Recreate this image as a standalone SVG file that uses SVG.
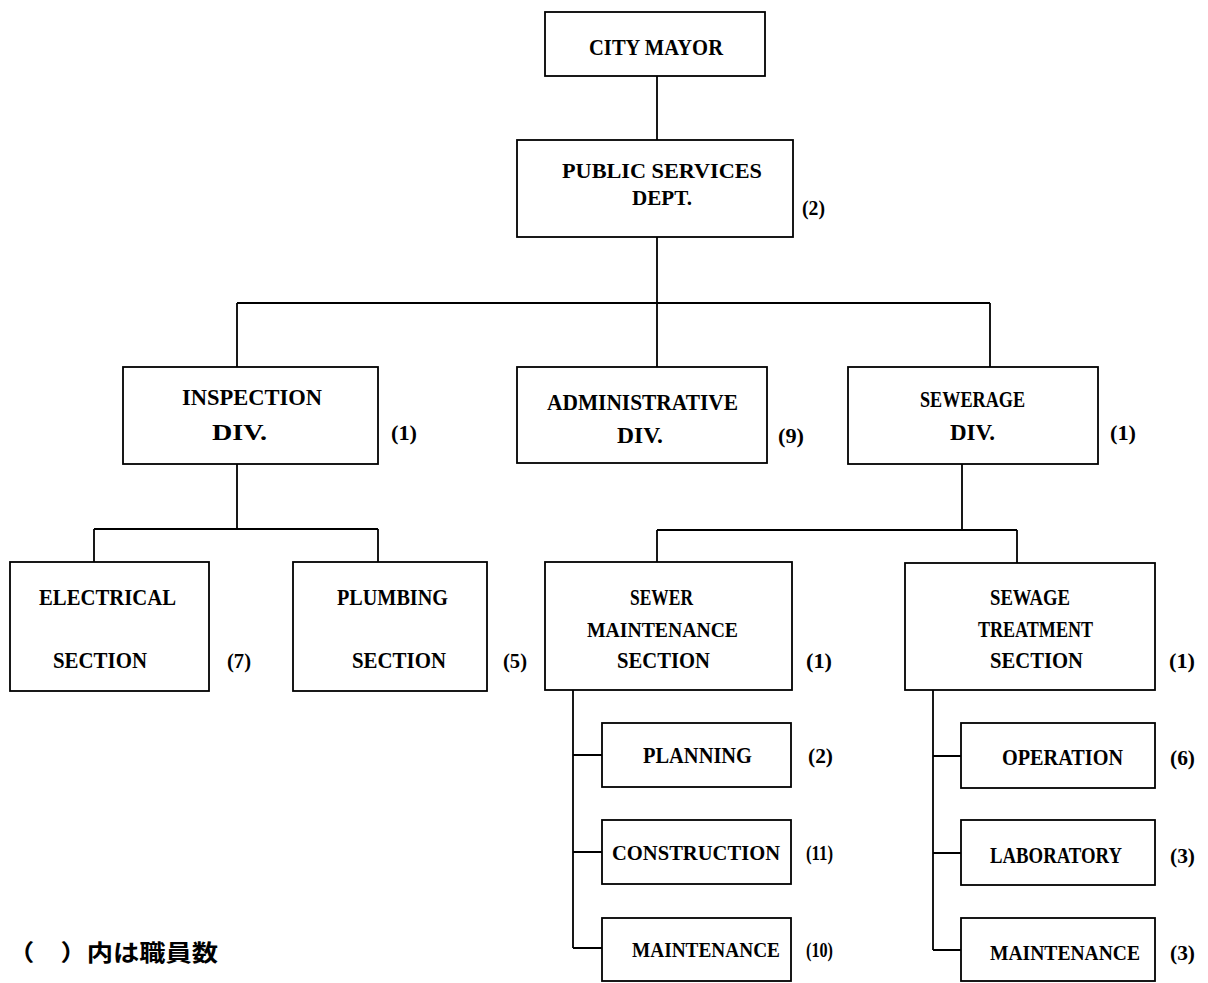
<svg xmlns="http://www.w3.org/2000/svg" width="1208" height="983" viewBox="0 0 1208 983">
<style>
.box{fill:#fff;stroke:#000;stroke-width:1.8}
.ln{fill:none;stroke:#000;stroke-width:1.8}
text{font-family:"Liberation Serif","DejaVu Serif",serif;font-weight:bold;font-size:24px;fill:#000}
.s{font-size:22px}
.n{font-size:22px}
.jp{font-family:"Noto Sans CJK JP","Noto Sans CJK SC",sans-serif;font-size:23px;font-weight:bold}
</style>
<rect width="1208" height="983" fill="#fff"/>
<g id="connectors">
<path class="ln" d="M657,76V140 M657,237V367 M237,303H990 M237,303V367 M990,303V367"/>
<path class="ln" d="M237,464V529 M94,529H378 M94,529V562 M378,529V562"/>
<path class="ln" d="M962,464V530 M657,530H1017 M657,530V562 M1017,530V563"/>
<path class="ln" d="M573,690V948 M573,755H602 M573,852H602 M573,948H602"/>
<path class="ln" d="M933,690V950 M933,756H961 M933,853H961 M933,950H961"/>
</g>
<g id="mayor"><rect class="box" x="545" y="12" width="220" height="64"/><text x="589" y="55" textLength="134" lengthAdjust="spacingAndGlyphs">CITY MAYOR</text></g>
<g id="public"><rect class="box" x="517" y="140" width="276" height="97"/><text class="s" x="562" y="178" textLength="200" lengthAdjust="spacingAndGlyphs">PUBLIC SERVICES</text><text class="s" x="632" y="205" textLength="60" lengthAdjust="spacingAndGlyphs">DEPT.</text><text class="n" x="802" y="215" textLength="23" lengthAdjust="spacingAndGlyphs">(2)</text></g>
<g id="inspection"><rect class="box" x="123" y="367" width="255" height="97"/><text x="182" y="405" textLength="140" lengthAdjust="spacingAndGlyphs">INSPECTION</text><text x="212" y="440" textLength="55" lengthAdjust="spacingAndGlyphs">DIV.</text><text class="n" x="391" y="440" textLength="26" lengthAdjust="spacingAndGlyphs">(1)</text></g>
<g id="administrative"><rect class="box" x="517" y="367" width="250" height="96"/><text x="547" y="410" textLength="191" lengthAdjust="spacingAndGlyphs">ADMINISTRATIVE</text><text x="617" y="443" textLength="46" lengthAdjust="spacingAndGlyphs">DIV.</text><text class="n" x="778" y="443" textLength="26" lengthAdjust="spacingAndGlyphs">(9)</text></g>
<g id="sewerage"><rect class="box" x="848" y="367" width="250" height="97"/><text x="920" y="407" textLength="105" lengthAdjust="spacingAndGlyphs">SEWERAGE</text><text x="950" y="440" textLength="45" lengthAdjust="spacingAndGlyphs">DIV.</text><text class="n" x="1110" y="440" textLength="26" lengthAdjust="spacingAndGlyphs">(1)</text></g>
<g id="electrical"><rect class="box" x="10" y="562" width="199" height="129"/><text x="39" y="605" textLength="137" lengthAdjust="spacingAndGlyphs">ELECTRICAL</text><text x="53" y="668" textLength="94" lengthAdjust="spacingAndGlyphs">SECTION</text><text class="n" x="227" y="668" textLength="24" lengthAdjust="spacingAndGlyphs">(7)</text></g>
<g id="plumbing"><rect class="box" x="293" y="562" width="194" height="129"/><text x="337" y="605" textLength="111" lengthAdjust="spacingAndGlyphs">PLUMBING</text><text x="352" y="668" textLength="94" lengthAdjust="spacingAndGlyphs">SECTION</text><text class="n" x="503" y="668" textLength="24" lengthAdjust="spacingAndGlyphs">(5)</text></g>
<g id="sewer"><rect class="box" x="545" y="562" width="247" height="128"/><text x="630" y="605" textLength="63" lengthAdjust="spacingAndGlyphs">SEWER</text><text class="s" x="587" y="637" textLength="151" lengthAdjust="spacingAndGlyphs">MAINTENANCE</text><text x="617" y="668" textLength="93" lengthAdjust="spacingAndGlyphs">SECTION</text><text class="n" x="806" y="668" textLength="26" lengthAdjust="spacingAndGlyphs">(1)</text></g>
<g id="treatment"><rect class="box" x="905" y="563" width="250" height="127"/><text x="990" y="605" textLength="80" lengthAdjust="spacingAndGlyphs">SEWAGE</text><text x="978" y="637" textLength="115" lengthAdjust="spacingAndGlyphs">TREATMENT</text><text x="990" y="668" textLength="93" lengthAdjust="spacingAndGlyphs">SECTION</text><text class="n" x="1169" y="668" textLength="26" lengthAdjust="spacingAndGlyphs">(1)</text></g>
<g id="planning"><rect class="box" x="602" y="723" width="189" height="64"/><text x="643" y="763" textLength="109" lengthAdjust="spacingAndGlyphs">PLANNING</text><text class="n" x="808" y="763" textLength="25" lengthAdjust="spacingAndGlyphs">(2)</text></g>
<g id="construction"><rect class="box" x="602" y="820" width="189" height="64"/><text class="s" x="612" y="860" textLength="168" lengthAdjust="spacingAndGlyphs">CONSTRUCTION</text><text class="n" x="806" y="860" textLength="27" lengthAdjust="spacingAndGlyphs">(11)</text></g>
<g id="maintenance1"><rect class="box" x="602" y="918" width="189" height="63"/><text class="s" x="632" y="957" textLength="148" lengthAdjust="spacingAndGlyphs">MAINTENANCE</text><text class="n" x="806" y="957" textLength="27" lengthAdjust="spacingAndGlyphs">(10)</text></g>
<g id="operation"><rect class="box" x="961" y="723" width="194" height="65"/><text x="1002" y="765" textLength="121" lengthAdjust="spacingAndGlyphs">OPERATION</text><text class="n" x="1170" y="765" textLength="25" lengthAdjust="spacingAndGlyphs">(6)</text></g>
<g id="laboratory"><rect class="box" x="961" y="820" width="194" height="65"/><text x="990" y="863" textLength="132" lengthAdjust="spacingAndGlyphs">LABORATORY</text><text class="n" x="1170" y="863" textLength="25" lengthAdjust="spacingAndGlyphs">(3)</text></g>
<g id="maintenance2"><rect class="box" x="961" y="918" width="194" height="63"/><text class="s" x="990" y="960" textLength="150" lengthAdjust="spacingAndGlyphs">MAINTENANCE</text><text class="n" x="1170" y="960" textLength="25" lengthAdjust="spacingAndGlyphs">(3)</text></g>
<g id="note"><text class="jp" x="8" y="961" textLength="210" lengthAdjust="spacingAndGlyphs">（　）内は職員数</text></g>
</svg>
